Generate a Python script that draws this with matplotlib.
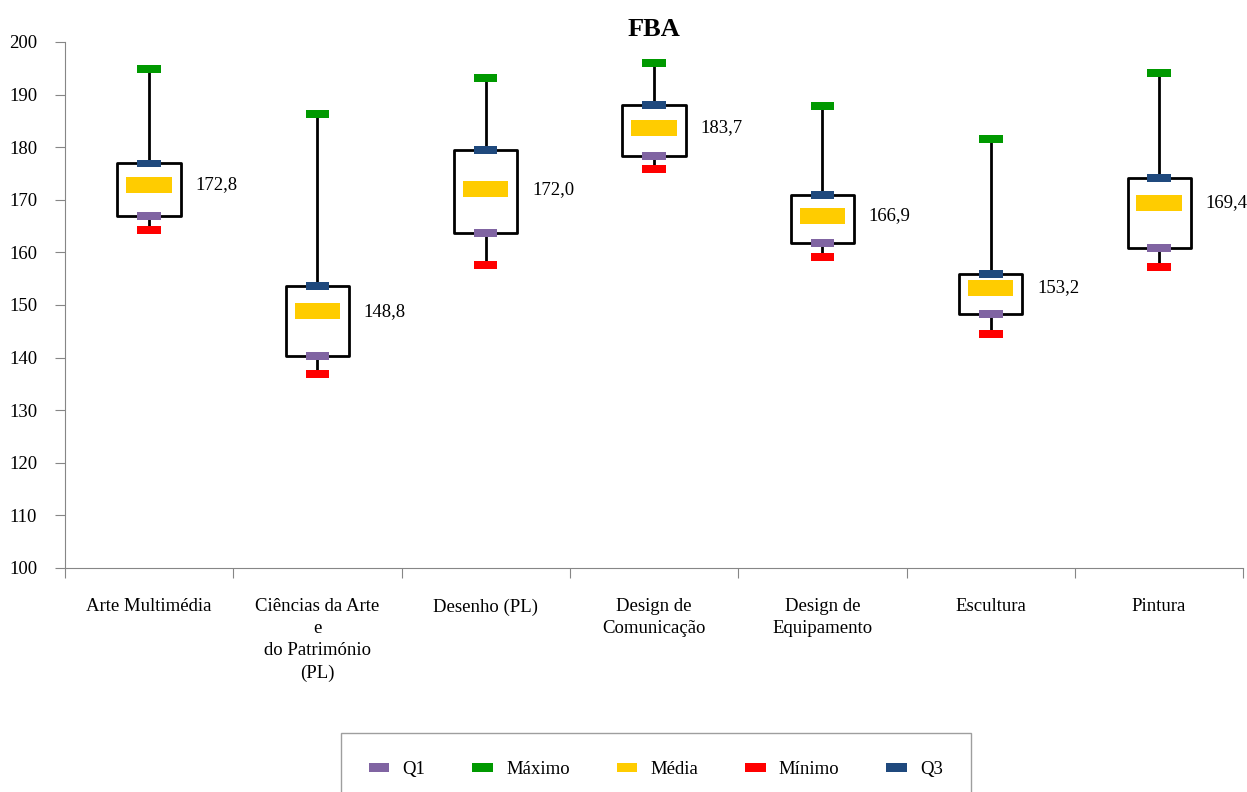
import numpy as np
import matplotlib.pyplot as plt

plt.rcParams['font.family'] = ['Liberation Serif', 'DejaVu Serif']

# data
categories = ['Arte Multimédia', 'Ciências da Arte\ne\ndo Património\n(PL)', 'Desenho (PL)',
              'Design de\nComunicação', 'Design de\nEquipamento', 'Escultura', 'Pintura']
maximo = [194.9, 186.3, 193.2, 196.0, 187.8, 181.6, 194.1]
q3 = [176.9, 153.6, 179.4, 188.1, 170.9, 155.9, 174.1]
media = [172.8, 148.8, 172.0, 183.7, 166.9, 153.2, 169.4]
q1 = [166.9, 140.3, 163.7, 178.4, 161.7, 148.2, 160.8]
minimo = [164.2, 136.8, 157.6, 175.9, 159.1, 144.4, 157.2]

C_Q1 = '#8064A2'
C_MAX = '#009900'
C_MED = '#FFCC00'
C_MIN = '#FF0000'
C_Q3 = '#1F497D'
FS = 13.5

fig = plt.figure(figsize=(12.47, 7.92), dpi=100)
ax = fig.add_axes([0.052, 0.283, 0.945, 0.664])

x = np.arange(len(categories))
q1a, q3a = np.array(q1), np.array(q3)

# whiskers
ax.vlines(x, minimo, q1, color='black', lw=2, zorder=1)
ax.vlines(x, q3, maximo, color='black', lw=2, zorder=1)
# boxes
ax.bar(x, q3a - q1a, bottom=q1a, width=0.375, facecolor='white', edgecolor='black',
       linewidth=2, joinstyle='round', zorder=2)

# markers
mh = 1.5
ax.bar(x, mh, bottom=np.array(q1) - mh / 2, width=0.14, color=C_Q1, zorder=3, label='Q1')
ax.bar(x, mh, bottom=np.array(maximo) - mh / 2, width=0.14, color=C_MAX, zorder=3, label='Máximo')
ax.bar(x, 3.0, bottom=np.array(media) - 1.5, width=0.27, color=C_MED, zorder=3, label='Média')
ax.bar(x, mh, bottom=np.array(minimo) - mh / 2, width=0.14, color=C_MIN, zorder=3, label='Mínimo')
ax.bar(x, mh, bottom=np.array(q3) - mh / 2, width=0.14, color=C_Q3, zorder=3, label='Q3')

for xi, m in zip(x, media):
    ax.text(xi + 0.275, m, f'{m:.1f}'.replace('.', ','), ha='left', va='center', fontsize=FS)

ax.set_xlim(-0.5, len(categories) - 0.5)
ax.set_ylim(100, 200)
ax.set_yticks(np.arange(100, 201, 10))
ax.set_xticks(np.arange(-0.5, len(categories), 1.0))
ax.set_xticklabels([])
ax.set_xticks(x, minor=True)
ax.set_xticklabels(categories, minor=True, fontsize=FS, linespacing=1.38)
ax.tick_params(axis='x', which='minor', length=0, pad=22)
ax.tick_params(axis='x', which='major', length=7, color='#868686')
ax.tick_params(axis='y', length=7, color='#868686', labelsize=FS, pad=13)
for s in ['top', 'right']:
    ax.spines[s].set_visible(False)
for s in ['left', 'bottom']:
    ax.spines[s].set_color('#868686')

ax.set_title('FBA', fontsize=19, fontweight='bold', pad=4)

leg = fig.legend(loc='upper center', bbox_to_anchor=(0.526, 0.0745), ncol=5, fontsize=FS,
                 frameon=True, fancybox=False, edgecolor='#868686', handlelength=1.1,
                 handleheight=0.35, columnspacing=2.5, borderpad=1.5, handletextpad=0.7,
                 borderaxespad=0)
leg.get_frame().set_linewidth(1)

fig.savefig('out.png', dpi=100)
